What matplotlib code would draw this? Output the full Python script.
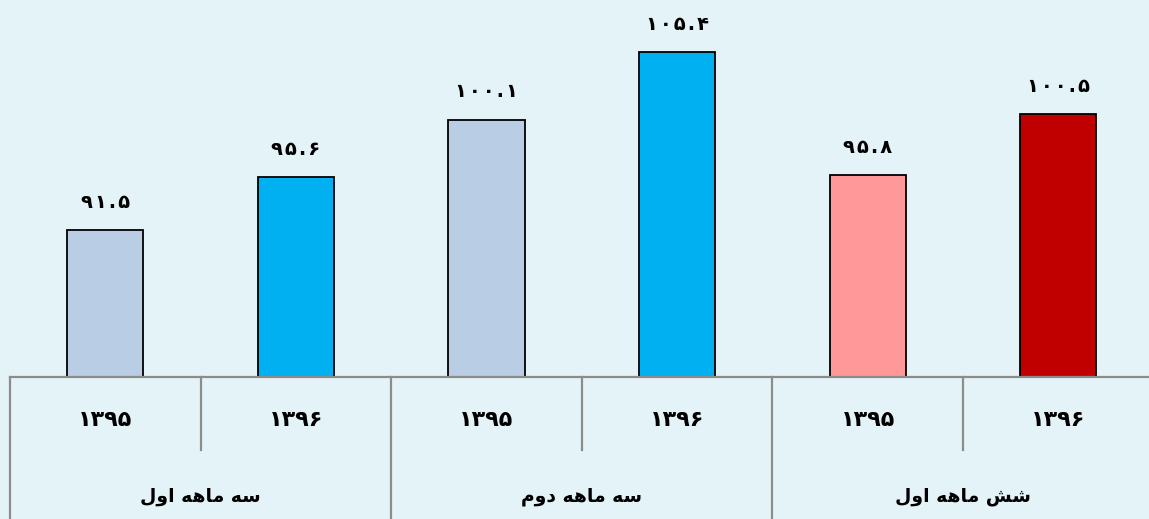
import matplotlib
matplotlib.use("Agg")
from matplotlib import pyplot as plt
from matplotlib import transforms
import numpy as np

# values
values = [91.5, 95.6, 100.1, 105.4, 95.8, 100.5]
value_labels = ["۹۱.۵", "۹۵.۶", "۱۰۰.۱", "۱۰۵.۴", "۹۵.۸", "۱۰۰.۵"]
years = ["۱۳۹۵", "۱۳۹۶", "۱۳۹۵", "۱۳۹۶", "۱۳۹۵", "۱۳۹۶"]
# group names, already in visual order with presentation forms
# "سه ماهه اول", "سه ماهه دوم", "شش ماهه اول"
w_se = "\uFEEA\uFEB3"
w_maheh = "\uFEEA\uFEEB\uFE8E\uFEE3"
w_aval = "\uFEDD\uFEED\uFE8D"
w_dovom = "\uFEE1\uFEED\uFEA9"
w_shesh = "\uFEB6\uFEB7"
groups = [w_aval + " " + w_maheh + " " + w_se,
          w_dovom + " " + w_maheh + " " + w_se,
          w_aval + " " + w_maheh + " " + w_shesh]
colors = ["#B9CDE5", "#00B0F0", "#B9CDE5", "#00B0F0", "#FF9999", "#C00000"]

bg = "#E4F3F7"
W, H = 1149, 519
fig = plt.figure(figsize=(W / 100, H / 100), dpi=100, facecolor=bg)

# axes: left edge of table at x=10px, one category = 190.6px, baseline at 377px
cat_w = 190.6
ax_h = 377
ax = fig.add_axes([10 / W, (H - ax_h) / H, 6 * cat_w / W, ax_h / H])
ax.set_facecolor(bg)
ax.set_xlim(-0.5, 5.5)
px_per_unit = 12.81
ax.set_ylim(80, 80 + ax_h / px_per_unit)
for s in ax.spines.values():
    s.set_visible(False)
ax.set_xticks([])
ax.set_yticks([])

x = np.arange(len(values))
ax.bar(x, np.array(values) - 80, bottom=80, width=0.4, color=colors,
       edgecolor="black", linewidth=1.3)

# the reference spaces the digits out a little
for xi, v, lab in zip(x, values, value_labels):
    spaced = "\u200A".join(lab)
    ax.annotate(spaced, (xi, v), xytext=(0, 13), textcoords="offset points",
                ha="center", va="bottom", fontsize=14, fontweight="bold",
                family="DejaVu Sans")

# table under the bars
def fy(px):
    # pixel row (from top of axes) -> axes fraction
    return 1 - px / ax_h

trans = transforms.blended_transform_factory(ax.transData, ax.transAxes)
line_kw = dict(color="#8C8C8C", linewidth=1.6, transform=trans, clip_on=False)
ax.plot([-0.5, 5.5], [0, 0], **line_kw)
for b in [-0.5, 1.5, 3.5, 5.5]:
    ax.plot([b, b], [0, fy(H)], **line_kw)
for b in [0.5, 2.5, 4.5]:
    ax.plot([b, b], [0, fy(450)], **line_kw)

for xi, yr in zip(x, years):
    ax.text(xi, fy(420), yr, transform=trans, ha="center", va="center",
            fontsize=16, fontweight="bold")
for gi, g in enumerate(groups):
    ax.text(2 * gi + 0.5, fy(496), g, transform=trans, ha="center",
            va="center", fontsize=13.5, fontweight="bold")

fig.savefig("out.png", dpi=100, facecolor=bg)
